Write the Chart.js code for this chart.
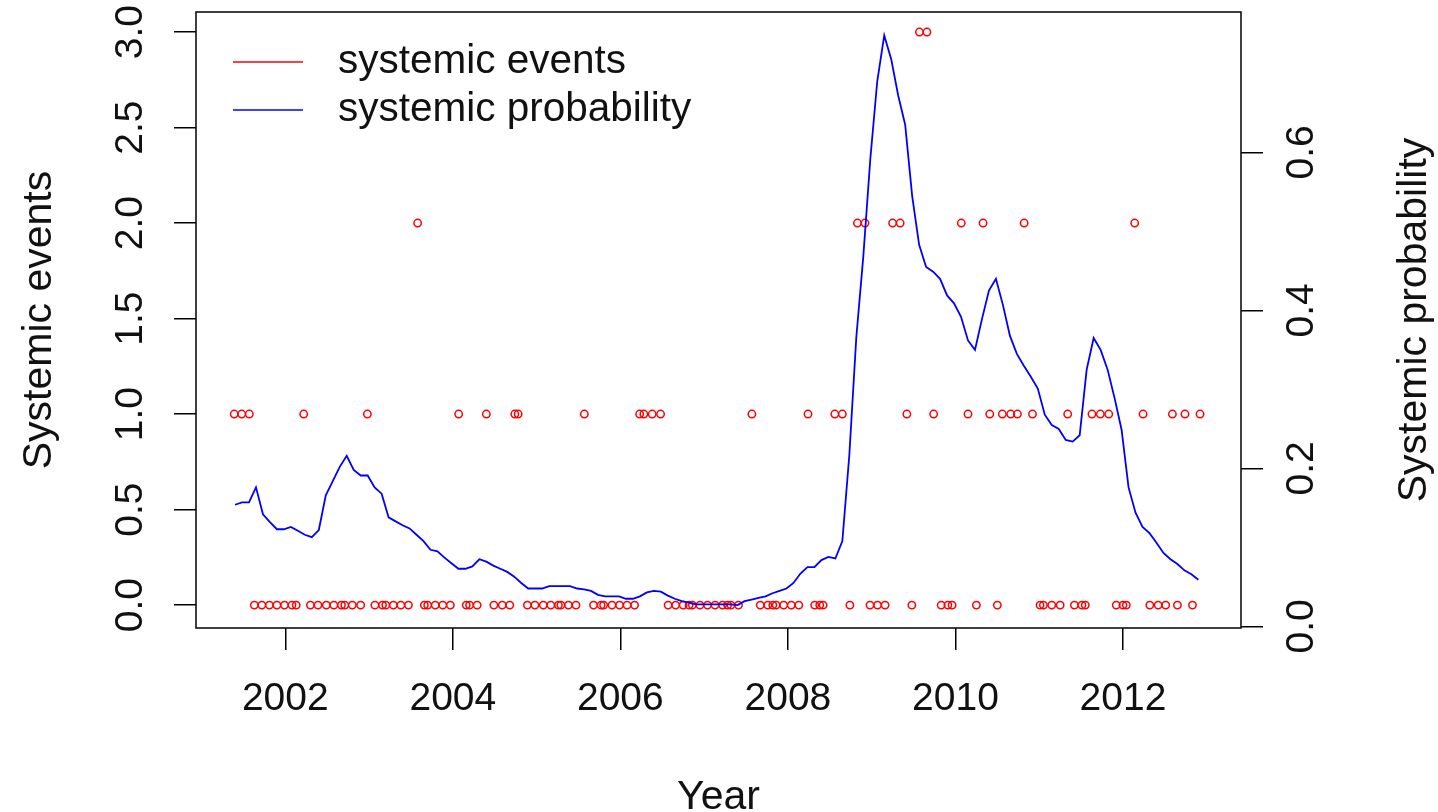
<!DOCTYPE html>
<html>
<head>
<meta charset="utf-8">
<title>Systemic events and probability</title>
<script src="https://cdn.jsdelivr.net/npm/chart.js@4.4.1/dist/chart.umd.min.js"></script>
<style>
  html, body { margin: 0; padding: 0; background: #fff; }
  canvas { display: block; }
</style>
</head>
<body>
<canvas id="myChart" width="1438" height="812"></canvas>
<script>
// count of systemic events per period (date as decimal year)
const eventYears = [
  2001.39, 2001.48, 2001.57, 2001.63, 2001.72, 2001.81, 2001.90, 2001.99, 2002.08, 2002.13,
  2002.22, 2002.30, 2002.39, 2002.49, 2002.58, 2002.67, 2002.71, 2002.80, 2002.90, 2002.98,
  2003.07, 2003.16, 2003.20, 2003.29, 2003.38, 2003.47, 2003.58, 2003.66, 2003.70, 2003.79,
  2003.88, 2003.97, 2004.07, 2004.16, 2004.20, 2004.29, 2004.40, 2004.49, 2004.59, 2004.68,
  2004.74, 2004.78, 2004.89, 2004.98, 2005.08, 2005.17, 2005.26, 2005.29, 2005.38, 2005.47,
  2005.57, 2005.68, 2005.77, 2005.80, 2005.90, 2005.99, 2006.08, 2006.17, 2006.23, 2006.28,
  2006.38, 2006.48, 2006.57, 2006.66, 2006.75, 2006.82, 2006.86, 2006.95, 2007.04, 2007.13,
  2007.22, 2007.28, 2007.32, 2007.41, 2007.57, 2007.67, 2007.76, 2007.82, 2007.86, 2007.95,
  2008.04, 2008.13, 2008.24, 2008.32, 2008.38, 2008.42, 2008.56, 2008.65, 2008.74, 2008.83,
  2008.92, 2008.98, 2009.07, 2009.16, 2009.25, 2009.34, 2009.42, 2009.48, 2009.57, 2009.66,
  2009.74, 2009.83, 2009.91, 2009.96, 2010.07, 2010.15, 2010.25, 2010.33, 2010.41, 2010.50,
  2010.56, 2010.66, 2010.74, 2010.82, 2010.92, 2011.01, 2011.05, 2011.15, 2011.25, 2011.34,
  2011.42, 2011.51, 2011.55, 2011.63, 2011.73, 2011.83, 2011.92, 2012.00, 2012.04, 2012.14,
  2012.24, 2012.32, 2012.42, 2012.51, 2012.59, 2012.65, 2012.74, 2012.83, 2012.92
];
const eventCounts = [
  1, 1, 1, 0, 0, 0, 0, 0, 0, 0,
  1, 0, 0, 0, 0, 0, 0, 0, 0, 1,
  0, 0, 0, 0, 0, 0, 2, 0, 0, 0,
  0, 0, 1, 0, 0, 0, 1, 0, 0, 0,
  1, 1, 0, 0, 0, 0, 0, 0, 0, 0,
  1, 0, 0, 0, 0, 0, 0, 0, 1, 1,
  1, 1, 0, 0, 0, 0, 0, 0, 0, 0,
  0, 0, 0, 0, 1, 0, 0, 0, 0, 0,
  0, 0, 1, 0, 0, 0, 1, 1, 0, 2,
  2, 0, 0, 0, 2, 2, 1, 0, 3, 3,
  1, 0, 0, 0, 2, 1, 0, 2, 1, 0,
  1, 1, 1, 2, 1, 0, 0, 0, 0, 1,
  0, 0, 0, 1, 1, 1, 0, 0, 0, 2,
  1, 0, 0, 0, 1, 0, 1, 0, 1
];

// monthly systemic probability, first month May 2001
const probStart = 2001.40;
const probValues = [
  0.154, 0.157, 0.157, 0.176, 0.142, 0.132, 0.123, 0.123, 0.126, 0.121,
  0.116, 0.113, 0.122, 0.166, 0.184, 0.202, 0.216, 0.198, 0.191, 0.191,
  0.176, 0.168, 0.138, 0.133, 0.128, 0.124, 0.116, 0.108, 0.097, 0.095,
  0.087, 0.080, 0.073, 0.073, 0.076, 0.085, 0.082, 0.077, 0.073, 0.069,
  0.063, 0.055, 0.048, 0.048, 0.048, 0.051, 0.051, 0.051, 0.051, 0.048,
  0.047, 0.045, 0.040, 0.038, 0.038, 0.038, 0.035, 0.035, 0.038, 0.043,
  0.045, 0.044, 0.039, 0.035, 0.032, 0.030, 0.028, 0.028, 0.028, 0.028,
  0.028, 0.028, 0.027, 0.032, 0.034, 0.036, 0.038, 0.042, 0.045, 0.048,
  0.055, 0.067, 0.075, 0.075, 0.084, 0.088, 0.086, 0.108, 0.217, 0.366,
  0.468, 0.591, 0.690, 0.748, 0.718, 0.672, 0.635, 0.545, 0.483, 0.455,
  0.449, 0.440, 0.419, 0.409, 0.392, 0.362, 0.350, 0.389, 0.425, 0.440,
  0.407, 0.368, 0.345, 0.330, 0.316, 0.301, 0.268, 0.255, 0.250, 0.236,
  0.234, 0.242, 0.325, 0.365, 0.350, 0.325, 0.289, 0.249, 0.176, 0.144,
  0.126, 0.118, 0.106, 0.093, 0.085, 0.079, 0.071, 0.066, 0.059
];

const legendLabels = ["systemic events", "systemic probability"];
const legendColors = ["#ff0000", "#0000ff"];

const FAMILY = '"Liberation Sans", Arial, sans-serif';
const TEXT_COLOR = "#111";

function rotatedText(ctx, str, x, y) {
    ctx.save();
    ctx.translate(x, y);
    ctx.rotate(-Math.PI / 2);
    ctx.fillText(str, 0, 0);
    ctx.restore();
}

// base-graphics look: box, axis labels parallel to the axes, titles and a boxless legend
const baseFrame = {
    id: "baseFrame",
    afterDraw(chart) {
        const ctx = chart.ctx;
        const area = chart.chartArea;
        const sx = chart.scales.x;
        const sy = chart.scales.y;
        const sp = chart.scales.y2;
        ctx.save();
        ctx.strokeStyle = "#000";
        ctx.lineWidth = 1.5;
        ctx.strokeRect(area.left, area.top, area.right - area.left, area.bottom - area.top);

        ctx.fillStyle = TEXT_COLOR;
        ctx.font = "39px " + FAMILY;
        ctx.textAlign = "center";
        ctx.textBaseline = "alphabetic";
        sx.ticks.forEach(t => ctx.fillText(String(t.value), sx.getPixelForValue(t.value), 710));
        sy.ticks.forEach(t => rotatedText(ctx, t.value.toFixed(1), 142, sy.getPixelForValue(t.value)));
        sp.ticks.forEach(t => rotatedText(ctx, t.value.toFixed(1), 1313, sp.getPixelForValue(t.value)));

        const midY = (area.top + area.bottom) / 2;
        ctx.font = "41px " + FAMILY;
        ctx.fillText("Year", (area.left + area.right) / 2, 809);
        rotatedText(ctx, "Systemic events", 51, midY);
        rotatedText(ctx, "Systemic probability", 1426, midY);

        ctx.font = "40.5px " + FAMILY;
        ctx.textAlign = "left";
        legendLabels.forEach((label, i) => {
            const y = 62 + i * 48;
            ctx.strokeStyle = legendColors[i];
            ctx.lineWidth = 1.7;
            ctx.beginPath();
            ctx.moveTo(233, y);
            ctx.lineTo(303, y);
            ctx.stroke();
            ctx.fillText(label, 338, y + 11);
        });
        ctx.restore();
    }
};

function initChart() {
    const probPoints = probValues.map((v, i) => ({ x: probStart + i / 12, y: v }));
    const eventPoints = eventYears.map((yr, i) => ({ x: yr, y: eventCounts[i] }));

    const tickGrid = {
        drawOnChartArea: false,
        drawTicks: true,
        tickLength: 22,
        color: "#000",
        lineWidth: 1.5
    };

    const ctx = document.getElementById("myChart").getContext("2d");
    return new Chart(ctx, {
        type: "scatter",
        data: {
            datasets: [{
                label: legendLabels[1],
                data: probPoints,
                showLine: true,
                yAxisID: "y2",
                borderColor: legendColors[1],
                borderWidth: 1.8,
                pointRadius: 0,
                tension: 0,
                fill: false
            },
            {
                label: legendLabels[0],
                data: eventPoints,
                yAxisID: "y",
                showLine: false,
                pointStyle: "circle",
                pointRadius: 3.7,
                borderWidth: 1.5,
                borderColor: legendColors[0],
                backgroundColor: "rgba(0,0,0,0)"
            }]
        },
        options: {
            responsive: false,
            animation: false,
            layout: { padding: { top: 12, left: 0, right: 0, bottom: 0 } },
            plugins: {
                legend: { display: false },
                tooltip: { enabled: false }
            },
            scales: {
                x: {
                    type: "linear",
                    position: "bottom",
                    min: 2000.934,
                    max: 2013.409,
                    ticks: { display: false, stepSize: 2, includeBounds: false },
                    grid: tickGrid,
                    border: { display: false },
                    afterFit: s => { s.height = 184; }
                },
                y: {
                    type: "linear",
                    position: "left",
                    min: -0.12,
                    max: 3.105,
                    ticks: { display: false, stepSize: 0.5, includeBounds: false },
                    grid: tickGrid,
                    border: { display: false },
                    afterFit: s => { s.width = 196; }
                },
                y2: {
                    type: "linear",
                    position: "right",
                    min: -0.002,
                    max: 0.7777,
                    ticks: { display: false, stepSize: 0.2, includeBounds: false },
                    grid: tickGrid,
                    border: { display: false },
                    afterFit: s => { s.width = 197; }
                }
            }
        },
        plugins: [baseFrame]
    });
}

initChart();
</script>
</body>
</html>
